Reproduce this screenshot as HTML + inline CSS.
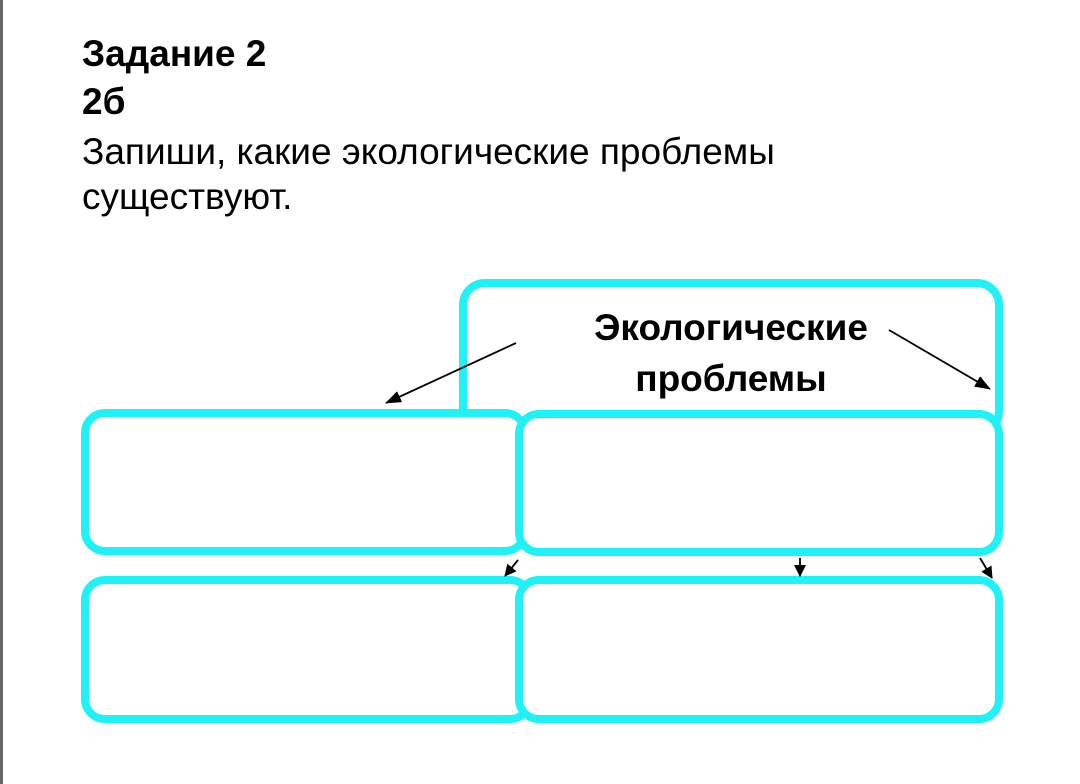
<!DOCTYPE html>
<html><head><meta charset="utf-8"><style>
html,body{margin:0;padding:0;background:#fff;}
body{width:1080px;height:784px;overflow:hidden;position:relative;}
</style></head><body>
<svg width="1080" height="784" xmlns="http://www.w3.org/2000/svg" style="position:absolute;left:0;top:0">
<defs><marker id="a" markerWidth="12" markerHeight="12" refX="11" refY="6" orient="auto" markerUnits="userSpaceOnUse"><path d="M0,0 L12,6 L0,12 z" fill="#000"/></marker>
<marker id="b" markerWidth="16" markerHeight="12" refX="15" refY="6" orient="auto" markerUnits="userSpaceOnUse"><path d="M0,0 L16,6 L0,12 z" fill="#000"/></marker></defs>
<rect x="0" y="0" width="3" height="784" fill="#666"/>
<g font-family="Liberation Sans, sans-serif" font-size="37" fill="#000">
<text x="82" y="66" font-weight="bold">Задание 2</text>
<text x="82" y="114" font-weight="bold">2б</text>
<text x="82" y="164">Запиши, какие экологические проблемы</text>
<text x="82" y="209">существуют.</text>
</g>
<g fill="#fff" stroke="#1ef2f6" stroke-width="8">
<rect x="463" y="283" width="536" height="150" rx="22"/>
<rect x="85" y="413" width="440" height="138" rx="20"/>
<rect x="519" y="414" width="480" height="138" rx="20"/>
<rect x="85" y="580" width="445" height="139" rx="20"/>
<rect x="519" y="580" width="480" height="139" rx="20"/>
</g>
<rect x="459" y="412" width="8" height="4" fill="#1ef2f6"/>
<g font-family="Liberation Sans, sans-serif" font-size="37" font-weight="bold" fill="#000" text-anchor="middle">
<text x="731" y="340">Экологические</text>
<text x="731" y="391">проблемы</text>
</g>
<g stroke="#000" stroke-width="1.8" fill="none">
<line x1="516" y1="343" x2="386" y2="403" marker-end="url(#b)"/>
<line x1="889" y1="330" x2="990" y2="389" marker-end="url(#b)"/>
<line x1="518" y1="560" x2="505" y2="576" marker-end="url(#a)"/>
<line x1="800" y1="558" x2="800" y2="576" marker-end="url(#a)"/>
<line x1="980" y1="558" x2="992" y2="578" marker-end="url(#a)"/>
</g>
</svg>
</body></html>
